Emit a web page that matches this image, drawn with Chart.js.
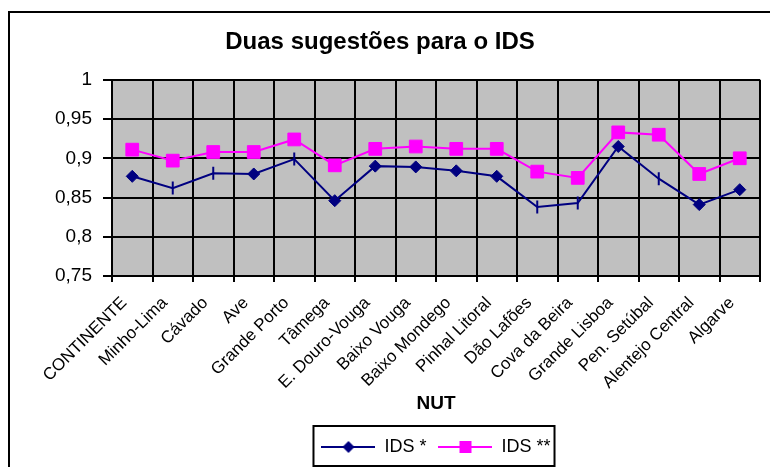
<!DOCTYPE html>
<html>
<head>
<meta charset="utf-8">
<script src="https://cdn.jsdelivr.net/npm/chart.js@4/dist/chart.umd.min.js"></script>
<style>
  html, body { margin: 0; padding: 0; background: #fff; }
  #wrap { width: 770px; height: 467px; }
</style>
</head>
<body>
<div id="wrap"><canvas id="idsChart" width="770" height="467"></canvas></div>
<script>
/* ─── Data ───────────────────────────────────────────────────── */
const categories = [
  'CONTINENTE', 'Minho-Lima', 'Cávado', 'Ave', 'Grande Porto', 'Tâmega',
  'E. Douro-Vouga', 'Baixo Vouga', 'Baixo Mondego', 'Pinhal Litoral',
  'Dão Lafões', 'Cova da Beira', 'Grande Lisboa', 'Pen. Setúbal',
  'Alentejo Central', 'Algarve',
];
const idsOne = [0.877, 0.862, 0.881, 0.880, 0.899, 0.846, 0.890, 0.889,
                0.884, 0.877, 0.838, 0.843, 0.915, 0.874, 0.841, 0.860];
const idsTwo = [0.911, 0.897, 0.908, 0.908, 0.924, 0.891, 0.912, 0.915,
                0.912, 0.912, 0.883, 0.875, 0.933, 0.930, 0.880, 0.900];
const seriesNames = ['IDS *', 'IDS **'];
const yTicks = { min: 0.75, max: 1, step: 0.05 };

/* ─── Styles ─────────────────────────────────────────────────── */
const NAVY    = '#000080';
const MAGENTA = '#FF00FF';
const FONT    = 'Arial, "Liberation Sans", sans-serif';

// the old export drew some diamonds as thin vertical strokes
const markerShapes = ['rectRot', 'line', 'line', 'rectRot', 'line', 'rectRot',
  'rectRot', 'rectRot', 'rectRot', 'rectRot', 'line', 'line', 'rectRot',
  'line', 'rectRot', 'rectRot'];

/* ─── Legend symbols (line with marker) ──────────────────────── */
function legendSymbol(color, shape) {
  const c = document.createElement('canvas');
  c.width = 54; c.height = 16;
  const g = c.getContext('2d');
  g.strokeStyle = color; g.fillStyle = color; g.lineWidth = 2;
  g.beginPath(); g.moveTo(0, 8); g.lineTo(54, 8); g.stroke();
  g.beginPath();
  if (shape === 'diamond') {
    g.moveTo(27, 2); g.lineTo(33, 8); g.lineTo(27, 14); g.lineTo(21, 8);
  } else {
    g.rect(21, 2, 12, 12);
  }
  g.closePath(); g.fill();
  return c;
}
const legendSymbols = [legendSymbol(NAVY, 'diamond'), legendSymbol(MAGENTA, 'square')];

/* ─── Plugins ────────────────────────────────────────────────── */
const frame = {
  id: 'frame',
  beforeDraw(chart) {
    const { ctx, chartArea: a } = chart;
    ctx.save();
    ctx.fillStyle = '#fff';
    ctx.fillRect(0, 0, chart.width, chart.height);
    ctx.fillStyle = '#C0C0C0';
    ctx.fillRect(a.left, a.top, a.right - a.left, a.bottom - a.top);
    ctx.restore();
  },
  afterDraw(chart) {
    const { ctx } = chart;
    ctx.save();
    ctx.strokeStyle = '#000';
    ctx.lineWidth = 2;
    ctx.strokeRect(9, 12, 800, 500);
    // legend box
    const boxes = chart.legend.legendHitBoxes;
    if (boxes && boxes.length) {
      const first = boxes[0], last = boxes[boxes.length - 1];
      const x0 = first.left - 8, x1 = last.left + last.width + 4;
      ctx.strokeRect(x0, chart.legend.top, x1 - x0, chart.legend.bottom - chart.legend.top);
    }
    ctx.restore();
  },
};

/* ─── Chart ──────────────────────────────────────────────────── */
new Chart(document.getElementById('idsChart'), {
  type: 'line',
  data: {
    labels: categories,
    datasets: [
      {
        label: seriesNames[0],
        data: idsOne,
        borderColor: NAVY,
        backgroundColor: NAVY,
        borderWidth: 2,
        pointStyle: markerShapes,
        pointRotation: markerShapes.map(s => (s === 'line' ? 90 : 0)),
        pointRadius: markerShapes.map(s => (s === 'line' ? 6.5 : 6)),
        pointBorderWidth: markerShapes.map(s => (s === 'line' ? 2 : 1)),
        tension: 0,
      },
      {
        label: seriesNames[1],
        data: idsTwo,
        borderColor: MAGENTA,
        backgroundColor: MAGENTA,
        borderWidth: 2,
        pointStyle: 'rect',
        pointRadius: 9,
        pointBorderWidth: 1,
        tension: 0,
      },
    ],
  },
  options: {
    responsive: false,
    animation: false,
    events: [],
    layout: { padding: { left: 0, right: 10, top: 0, bottom: 1 } },
    plugins: {
      title: {
        display: true,
        text: 'Duas sugestões para o IDS',
        color: '#000',
        font: { family: FONT, size: 24, weight: 'bold' },
        padding: { top: 28, bottom: 23 },
      },
      legend: {
        position: 'bottom',
        fullSize: false,
        labels: {
          color: '#000',
          font: { family: FONT, size: 18 },
          usePointStyle: true,
          pointStyleWidth: 54,
          padding: 12,
          generateLabels: chart => chart.data.datasets.map((ds, i) => ({
            text: ds.label,
            fontColor: '#000',
            pointStyle: legendSymbols[i],
            datasetIndex: i,
            lineWidth: 0,
            hidden: false,
          })),
        },
      },
      tooltip: { enabled: false },
    },
    scales: {
      x: {
        offset: true,
        grid: { offset: true, color: '#000', lineWidth: 2, tickLength: 6, drawOnChartArea: true },
        border: { color: '#000', width: 2 },
        ticks: {
          color: '#000',
          font: { family: FONT, size: 17 },
          minRotation: 45,
          maxRotation: 45,
          autoSkip: false,
          padding: 11,
          labelOffset: -8,
        },
        title: {
          display: true,
          text: 'NUT',
          color: '#000',
          font: { family: FONT, size: 19, weight: 'bold' },
          padding: { top: 4, bottom: 11 },
        },
        afterFit(scale) { scale.height = 150; },
      },
      y: {
        min: yTicks.min,
        max: yTicks.max,
        grid: { color: '#000', lineWidth: 2, tickLength: 9 },
        border: { color: '#000', width: 2 },
        ticks: {
          stepSize: yTicks.step,
          color: '#000',
          font: { family: FONT, size: 19 },
          padding: 11,
          callback: v => String(Math.round(v * 100) / 100).replace('.', ','),
        },
        afterFit(scale) { scale.width = 112; },
      },
    },
  },
  plugins: [frame],
});
</script>
</body>
</html>
